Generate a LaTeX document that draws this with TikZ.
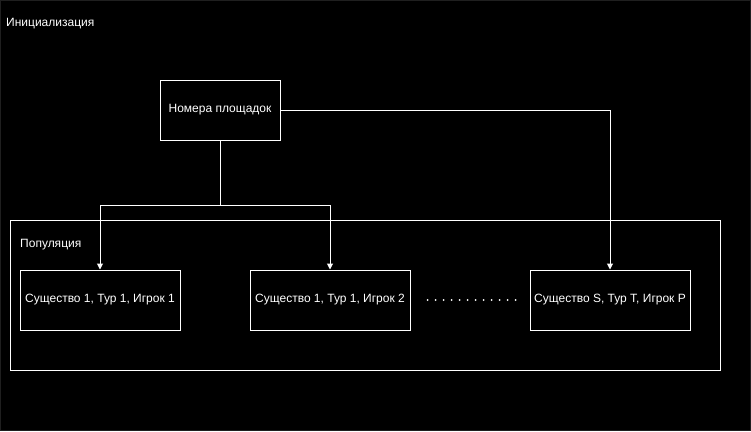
\documentclass[tikz,border=0pt]{standalone}
\usepackage{fontspec}
\setmainfont{Liberation Sans}
\usetikzlibrary{arrows.meta,calc}
\begin{document}
\begin{tikzpicture}[x=1pt,y=-1pt,
  every node/.style={font=\fontsize{12}{14}\selectfont, text=white},
  box/.style={draw=white, line width=1pt, minimum width=120pt, minimum height=60pt, inner sep=0pt},
  sbox/.style={draw=white, line width=1pt, minimum width=160pt, minimum height=60pt, inner sep=0pt},
  conn/.style={draw=white, line width=1pt, -{Triangle[width=6pt,length=6pt]}},
  lbl/.style={anchor=west, inner sep=0pt},
  dotmark/.style={fill=white}
]
\fill[black] (0,0) rectangle (751,431);
\useasboundingbox (0,0) rectangle (751,431);
\draw[draw=black!88!white, line width=1pt] (0.5,0.5) rectangle (750.5,430.5);
\node[lbl] (init) at (6,24) {Инициализация};
\draw[draw=white, line width=1pt] (10,220) rectangle (720,370);
\node[lbl] (pop) at (20,245) {Популяция};
\node[box] (nums) at (220,110) {Номера площадок};
\node[sbox] (s1) at (100,300) {Существо 1, Тур 1, Игрок 1};
\node[sbox] (s2) at (330,300) {Существо 1, Тур 1, Игрок 2};
\node[sbox] (s3) at (610,300) {Существо S, Тур T, Игрок P};
\coordinate (j) at (220,205);
\draw[conn] (nums.south) -- (j) -| (s1.north);
\draw[conn] (j) -| (s2.north);
\draw[conn] (nums.east) -| (s3.north);
\foreach \i in {0,...,11} \fill[dotmark] ($(s2.east)+(17+8*\i,0)$) circle (1pt);
\end{tikzpicture}
\end{document}
